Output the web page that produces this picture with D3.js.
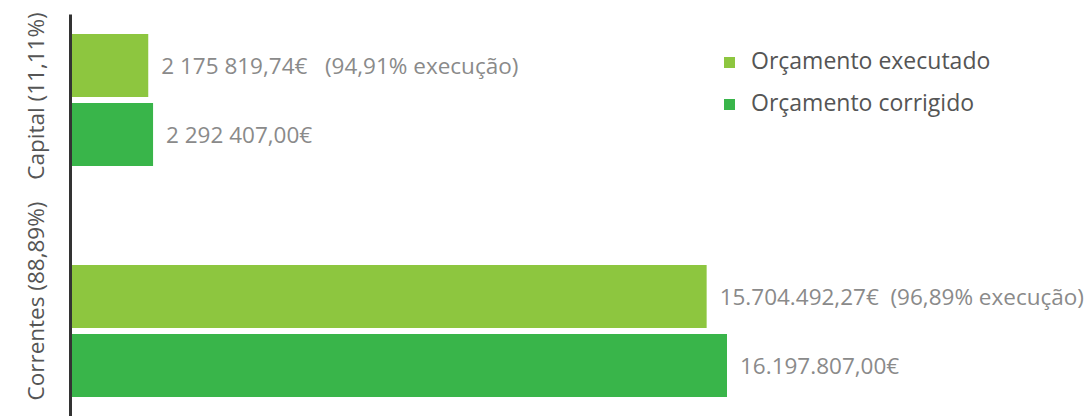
<!DOCTYPE html>
<html><head><meta charset="utf-8">
<script src="https://cdn.jsdelivr.net/npm/d3@7"></script>
<style>body{margin:0;background:#fff}svg{display:block}text{font-family:"Open Sans",sans-serif}</style>
</head><body>
<script>
const categories = ["Capital (11,11%)", "Correntes (88,89%)"];
const seriesNames = ["Orçamento executado", "Orçamento corrigido"];
const executado = [2175819.74, 15704492.27];
const corrigido = [2292407.00, 16197807.00];
const valueLabels = [
  ["2 175 819,74€   (94,91% execução)", "2 292 407,00€"],
  ["15.704.492,27€  (96,89% execução)", "16.197.807,00€"]
];
const colors = ["#8dc63f", "#39b54a"];

const W = 1087, H = 416;
const svg = d3.select("body").append("svg").attr("width", W).attr("height", H);

const x = d3.scaleLinear().domain([280000, 16197807]).range([70, 727]);
const y0 = d3.scaleBand().domain(categories).range([34, 397]).paddingInner(0.4286).paddingOuter(0);
const y1 = d3.scaleBand().domain(seriesNames).range([0, y0.bandwidth()]).paddingInner(0.087).paddingOuter(0);

const data = categories.map((c, i) => ({
  cat: c,
  vals: [
    {s: seriesNames[0], v: executado[i], label: valueLabels[i][0]},
    {s: seriesNames[1], v: corrigido[i], label: valueLabels[i][1]}
  ]
}));

const g = svg.selectAll("g.cat").data(data).enter().append("g")
  .attr("transform", d => `translate(0,${y0(d.cat)})`);

g.selectAll("rect").data(d => d.vals).enter().append("rect")
  .attr("x", x.range()[0])
  .attr("y", d => y1(d.s))
  .attr("height", y1.bandwidth())
  .attr("width", d => x(d.v) - x.range()[0])
  .attr("fill", (d, i) => colors[i]);

g.selectAll("text.val").data(d => d.vals).enter().append("text")
  .attr("class", "val")
  .attr("x", d => x(d.v) + 13)
  .attr("y", d => y1(d.s) + y1.bandwidth() / 2 + 1)
  .attr("dy", "0.35em")
  .attr("fill", "#8a8a8a")
  .attr("font-size", 22.5)
  .style("white-space", "pre")
  .attr("xml:space", "preserve")
  .text(d => d.label);

// axis line
const axis = d3.axisLeft(d3.scaleLinear().range([14, 416])).ticks(0).tickSize(0);
svg.append("g").attr("transform", "translate(70,0)").call(axis)
  .call(s => s.select(".domain").attr("stroke", "#333").attr("stroke-width", 3))
  .call(s => s.selectAll("text").remove());

// category labels
const catOffsets = [0, -26];
svg.selectAll("text.cat").data(categories).enter().append("text")
  .attr("class", "cat")
  .attr("transform", (d, i) => `translate(44,${y0(d) + y0.bandwidth() / 2 + catOffsets[i] - 4}) rotate(-90)`)
  .attr("text-anchor", "middle")
  .attr("fill", "#555")
  .attr("font-size", 22.5)
  .text(d => d);

// legend
const leg = svg.selectAll("g.leg").data(seriesNames).enter().append("g")
  .attr("transform", (d, i) => `translate(724,${57 + i * 42})`);
leg.append("rect").attr("width", 11).attr("height", 11).attr("fill", (d, i) => colors[i]);
leg.append("text").attr("x", 27).attr("y", 4).attr("dy", "0.35em")
  .attr("fill", "#555").attr("font-size", 23).text(d => d);
</script>
</body></html>
